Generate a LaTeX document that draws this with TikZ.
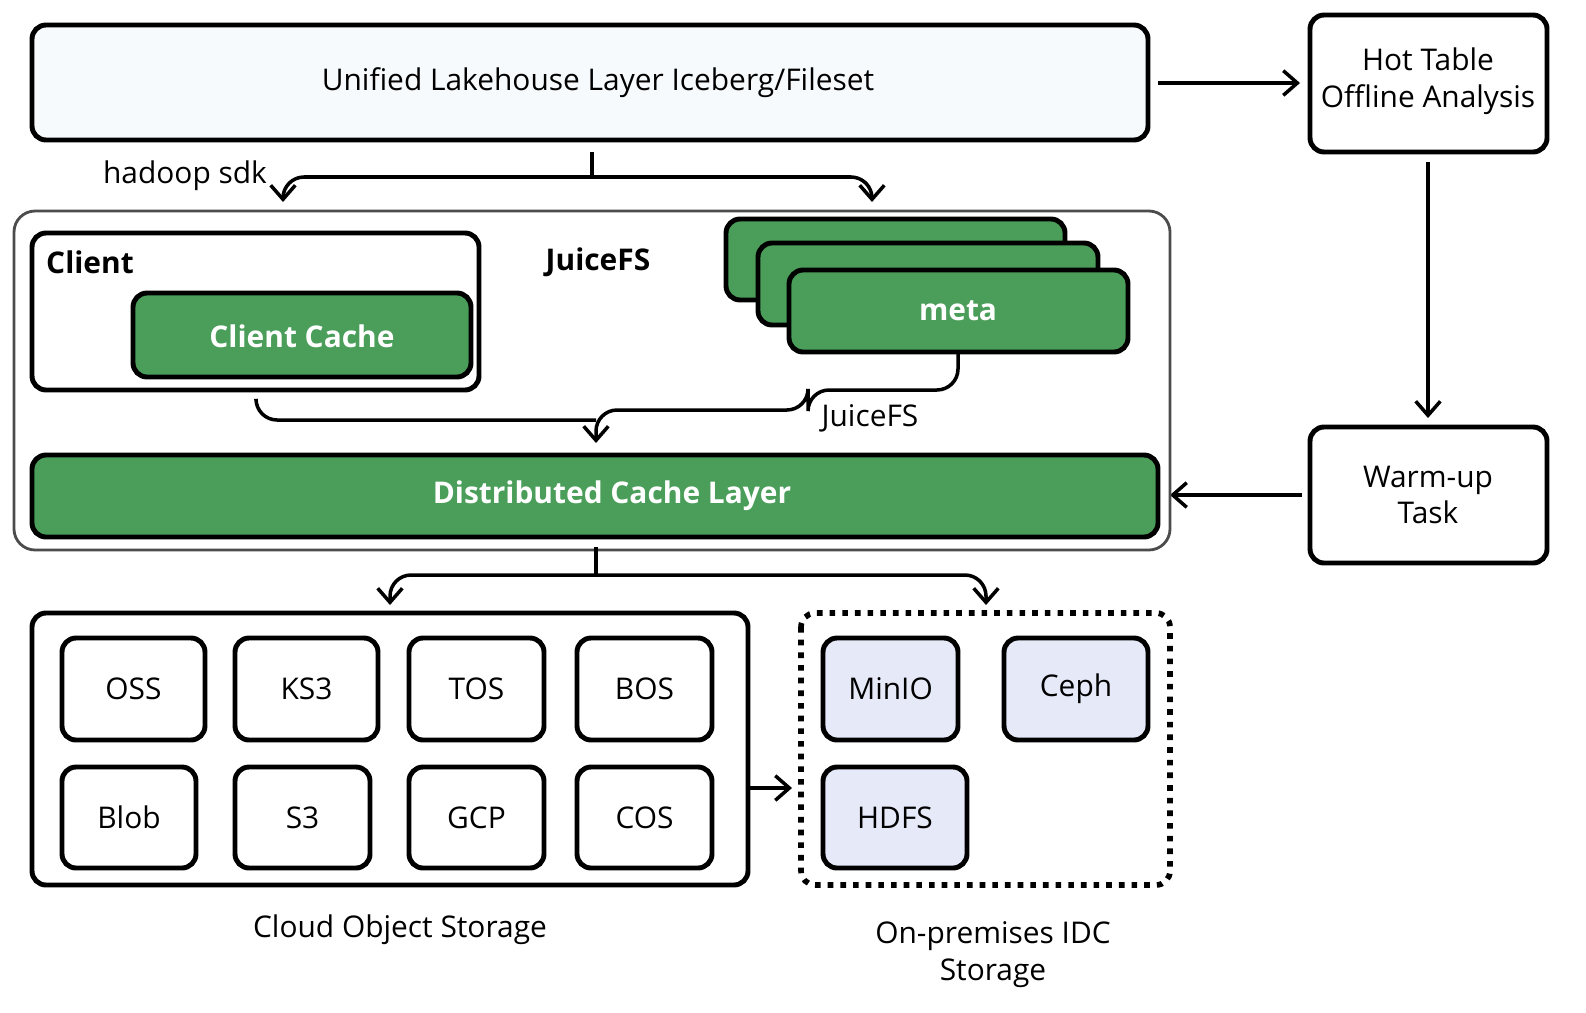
\documentclass[tikz,border=0pt]{standalone}
\usepackage{fontspec}
\setmainfont{Open Sans}
\usetikzlibrary{arrows.meta}
\definecolor{cachegreen}{HTML}{4A9E5A}
\definecolor{paleblue}{HTML}{E6E9F8}
\definecolor{topfill}{HTML}{F7FAFC}
\begin{document}
\begin{tikzpicture}[x=0.01cm,y=-0.01cm,>={Straight Barb[length=4pt,width=7pt]},line width=1pt]
  \tikzset{box/.style={draw,rounded corners=4pt,line width=1.4pt},
           green/.style={box,fill=cachegreen},
           gtext/.style={text=white,font=\bfseries\fontsize{8.5}{10}\selectfont},
           store/.style={box,fill=white},
           local/.style={box,fill=paleblue},
           lbl/.style={font=\fontsize{8.5}{10.5}\selectfont,align=center}}
  \useasboundingbox[fill=white] (0,0) rectangle (1586,1012);
  % top layer and side tasks
  \draw[box,fill=topfill] (32,25) rectangle (1148,140);
  \node[lbl] (lake) at (598,83) {Unified Lakehouse Layer Iceberg/Fileset};
  \draw[box] (1310,15) rectangle (1547,152);
  \node[lbl] (hot) at (1428,81) {Hot Table\\Offline Analysis};
  \draw[box] (1310,427) rectangle (1547,563);
  \node[lbl] (warm) at (1428,495) {Warm-up\\Task};
  \coordinate (lakeE) at (1158,83);
  \coordinate (hotW) at (1300,83);
  \coordinate (hotS) at (1428,162);
  \coordinate (warmN) at (1428,418);
  \coordinate (warmW) at (1302,495);
  \coordinate (dclE) at (1170,495);
  \draw[->] (lakeE) -- (hotW);
  \draw[->] (hotS) -- (warmN);
  \draw[->] (warmW) -- (dclE);
  % sdk bracket
  \coordinate (lakeS) at (592,152);
  \coordinate (sdkL) at (283,202);
  \coordinate (sdkR) at (872,202);
  \draw[<->,rounded corners=6pt] (sdkL) -- (283,177) -- (872,177) -- (sdkR);
  \draw (lakeS) -- (592,177);
  \node[lbl] (sdk) at (185,176) {hadoop sdk};
  % JuiceFS block
  \draw[rounded corners=6pt,draw=black!70,line width=0.8pt] (14,211) rectangle (1170,550);
  \node[lbl,font=\bfseries\fontsize{8.5}{10}\selectfont] (jfs) at (598,262) {JuiceFS};
  \draw[box] (32,233) rectangle (479,390);
  \node[lbl,font=\bfseries\fontsize{8.5}{10}\selectfont] (client) at (90,262) {Client};
  \draw[green] (133,293) rectangle (471,377);
  \node[gtext] (ccache) at (302,336) {Client Cache};
  \draw[green] (726,219) rectangle (1065,300);
  \draw[green] (758,243) rectangle (1098,325);
  \draw[green] (789,270) rectangle (1128,352);
  \node[gtext] (meta) at (958,311) {meta};
  \coordinate (ccS) at (256,400);
  \coordinate (metaS) at (958,352);
  \coordinate (dclN) at (596,443);
  \draw[rounded corners=6pt] (ccS) -- (256,420) -- (596,420);
  \draw[->,rounded corners=6pt] (metaS) -- (958,390) -- (808,390) -- (808,410) -- (596,410) -- (dclN);
  \node[lbl] (jfslbl) at (870,418) {JuiceFS};
  \draw[green] (32,455) rectangle (1158,537);
  \node[gtext] (dcl) at (612,496) {Distributed Cache Layer};
  % storage bracket
  \coordinate (dclS) at (596,547);
  \coordinate (cloudN) at (390,605);
  \coordinate (idcN) at (986,605);
  \draw[<->,rounded corners=6pt] (cloudN) -- (390,575) -- (986,575) -- (idcN);
  \draw (dclS) -- (596,575);
  % cloud object storage
  \draw[box] (32,613) rectangle (748,885);
  \foreach \name/\xa/\xb/\ya/\yb in {OSS/62/205/638/740,KS3/235/378/638/740,TOS/409/544/638/740,BOS/577/712/638/740,
      Blob/62/196/767/868,S3/235/370/767/868,GCP/409/544/767/868,COS/577/712/767/868}{
    \draw[store] (\xa,\ya) rectangle (\xb,\yb);
    \node[lbl] (\name) at ({(\xa+\xb)/2},{(\ya+\yb)/2}) {\name};
  }
  \node[lbl] (cloud) at (400,930) {Cloud Object Storage};
  \coordinate (cloudE) at (750,788);
  \coordinate (idcW) at (792,788);
  \draw[->] (cloudE) -- (idcW);
  % on-premises storage
  \draw[line width=1.6pt,dotted,rounded corners=4pt] (801,613) rectangle (1170,885);
  \foreach \name/\xa/\xb/\ya/\yb in {MinIO/823/958/638/740,Ceph/1004/1148/638/740,HDFS/823/967/767/868}{
    \draw[local] (\xa,\ya) rectangle (\xb,\yb);
    \node[lbl] (\name) at ({(\xa+\xb)/2},{(\ya+\yb)/2}) {\name};
  }
  \node[lbl] (idc) at (993,955) {On-premises IDC\\Storage};
\end{tikzpicture}
\end{document}
